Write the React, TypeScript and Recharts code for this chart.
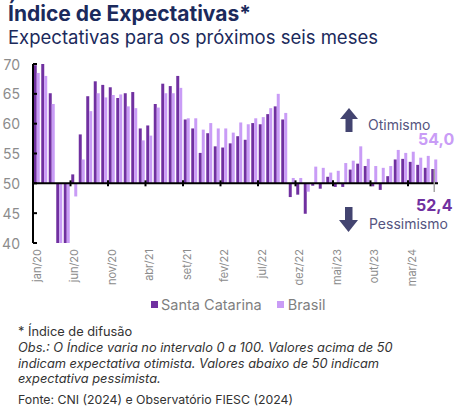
import { BarChart, Bar, XAxis, YAxis, ReferenceLine, LabelList } from "recharts";

const MONTHS = [
  "jan/20", "fev/20", "mar/20", "abr/20", "mai/20", "jun/20", "jul/20", "ago/20", "set/20", "out/20", "nov/20", "dez/20",
  "jan/21", "fev/21", "mar/21", "abr/21", "mai/21", "jun/21", "jul/21", "ago/21", "set/21", "out/21", "nov/21", "dez/21",
  "jan/22", "fev/22", "mar/22", "abr/22", "mai/22", "jun/22", "jul/22", "ago/22", "set/22", "out/22", "nov/22", "dez/22",
  "jan/23", "fev/23", "mar/23", "abr/23", "mai/23", "jun/23", "jul/23", "ago/23", "set/23", "out/23", "nov/23", "dez/23",
  "jan/24", "fev/24", "mar/24", "abr/24", "mai/24", "jun/24",
];

// Santa Catarina
const SC = [
  69.8, 70.0, 65.1, 34.5, 36.5, 51.5, 58.2, 64.6, 67.1, 66.5, 66.1, 64.3,
  65.1, 65.3, 59.2, 59.7, 63.3, 66.7, 66.3, 68.0, 60.7, 59.2, 55.1, 58.4,
  56.2, 56.0, 56.7, 57.9, 57.3, 60.1, 59.9, 61.6, 62.9, 60.7, 47.7, 48.1,
  44.9, 49.6, 49.1, 51.1, 49.4, 49.4, 52.3, 53.3, 52.9, 49.5, 48.9, 51.2,
  54.0, 54.1, 53.6, 53.1, 52.6, 52.4,
];

// Brasil
const BR = [
  68.5, 68.0, 63.3, 33.0, 35.0, 47.8, 54.0, 62.1, 65.1, 64.4, 64.8, 64.9,
  62.9, 62.6, 57.2, 58.0, 62.7, 65.1, 65.1, 66.0, 60.9, 60.9, 59.0, 60.1,
  59.2, 59.2, 58.5, 60.2, 59.9, 60.9, 61.1, 62.6, 65.0, 61.8, 50.9, 50.9,
  48.6, 52.8, 52.6, 51.8, 52.1, 53.4, 53.8, 56.2, 54.1, 52.9, 52.6, 52.9,
  55.6, 55.1, 55.3, 54.3, 54.6, 54.0,
];

const Y_TICKS = [40, 45, 50, 55, 60, 65, 70];
const BASE = 50;

const SC_COLOR = "#7030A0";
const BR_COLOR = "#C99CF6";
const NAVY = "#1B2A5C";
const ARROW = "#434470";
const GRAY = "#8C8C8C";
const FONT = "Inter, 'Open Sans', sans-serif";

const data = MONTHS.map((m, i) => ({ month: m, sc: [BASE, SC[i]], br: [BASE, BR[i]] }));
// tick marks on the 50-line every 5 months (skip the first, it sits on the y axis)
const axisMarks = MONTHS.filter((_, i) => i % 5 === 0 && i > 0);
const last = MONTHS.length - 1;
const fmt = (v: number) => v.toFixed(1).replace(".", ",");

const XTick = ({ x, y, payload }: any) => (
  <text
    transform={`translate(${x},${y}) rotate(-90)`}
    textAnchor="end"
    dominantBaseline="central"
    fontSize={11}
    fill={GRAY}
  >
    {payload.value}
  </text>
);

const YTick = ({ x, y, payload }: any) => (
  <g>
    <line x1={x + 13} x2={x + 17} y1={y} y2={y} stroke="#000" strokeWidth={2} />
    <text x={x} y={y} textAnchor="end" dominantBaseline="central" fontSize={14} fill={GRAY}>
      {payload.value}
    </text>
  </g>
);

const rectOf = (p: any) => {
  const vb = p.viewBox && p.viewBox.width !== undefined ? p.viewBox : p;
  const top = Math.min(vb.y, vb.y + vb.height);
  return { x: vb.x, width: vb.width, top };
};

const ScLabel = (props: any) => {
  if (props.index !== last) return null;
  const { x, width, top } = rectOf(props);
  const cx = x + width;
  return (
    <g>
      <line x1={cx} x2={cx} y1={top} y2={top + 23} stroke="#A6A6A6" strokeWidth={1.5} />
      <text x={cx} y={top + 42} textAnchor="middle" fontSize={16} fontWeight={700} fill={SC_COLOR}>
        {fmt(SC[last])}
      </text>
    </g>
  );
};

const BrLabel = (props: any) => {
  if (props.index !== last) return null;
  const { x, top } = rectOf(props);
  return (
    <text x={x + 20} y={top - 14} textAnchor="end" fontSize={16} fontWeight={700} fill={BR_COLOR}>
      {fmt(BR[last])}
    </text>
  );
};

const noteLine = { height: 15.8, lineHeight: "15.8px", whiteSpace: "nowrap" as const };

export default function App() {
  return (
    <div
      style={{
        position: "absolute",
        left: 0,
        top: 0,
        width: 459,
        height: 412,
        overflow: "hidden",
        background: "#fff",
        fontFamily: FONT,
      }}
    >
      <div style={{ position: "absolute", left: 8, top: 3, fontSize: 21, lineHeight: "22px", fontWeight: 700, color: NAVY }}>
        Índice de Expectativas*
      </div>
      <div style={{ position: "absolute", left: 8, top: 26, fontSize: 18.5, lineHeight: "22px", color: NAVY }}>
        Expectativas para os próximos seis meses
      </div>

      <div style={{ position: "absolute", left: 0, top: 0 }}>
        <BarChart
          width={459}
          height={300}
          data={data}
          margin={{ top: 64, right: 21, left: 0, bottom: 0 }}
          barCategoryGap="10%"
          barGap={0}
        >
          <XAxis
            dataKey="month"
            interval={4}
            height={57}
            axisLine={false}
            tickLine={false}
            tickSize={0}
            tickMargin={6}
            tick={<XTick />}
          />
          <YAxis
            type="number"
            domain={[40, 70]}
            ticks={Y_TICKS}
            allowDataOverflow
            width={33}
            axisLine={{ stroke: "#000", strokeWidth: 2 }}
            tickLine={false}
            tickSize={0}
            tickMargin={13}
            tick={<YTick />}
          />
          <Bar dataKey="sc" name="Santa Catarina" fill={SC_COLOR} isAnimationActive={false}>
            <LabelList content={<ScLabel />} />
          </Bar>
          <Bar dataKey="br" name="Brasil" fill={BR_COLOR} isAnimationActive={false}>
            <LabelList content={<BrLabel />} />
          </Bar>
          <ReferenceLine y={BASE} stroke="#000" strokeWidth={2} />
          {axisMarks.map((m) => (
            <ReferenceLine
              key={m}
              position="start"
              segment={[
                { x: m, y: BASE - 0.5 },
                { x: m, y: BASE + 0.5 },
              ]}
              stroke="#000"
              strokeWidth={2}
            />
          ))}
        </BarChart>
      </div>

      {/* annotations */}
      <svg width={459} height={412} style={{ position: "absolute", left: 0, top: 0, pointerEvents: "none" }}>
        <polygon points="349,108 358,119 340,119" fill={ARROW} />
        <rect x={345.5} y={118} width={7} height={14} fill={ARROW} />
        <text x={368} y={130} fontSize={14} fill="#555580">Otimismo</text>
        <rect x={345} y={207} width={7.5} height={14} fill={ARROW} />
        <polygon points="339,220 358,220 348.5,232" fill={ARROW} />
        <text x={369} y={229} fontSize={14} fill="#555580">Pessimismo</text>
      </svg>

      {/* legend */}
      <div
        style={{
          position: "absolute",
          left: 151,
          top: 296,
          display: "flex",
          alignItems: "center",
          fontSize: 14.5,
          color: "#7F7F7F",
        }}
      >
        <span style={{ width: 7, height: 7, background: SC_COLOR, marginRight: 3 }} />
        <span style={{ marginRight: 15 }}>Santa Catarina</span>
        <span style={{ width: 7, height: 7, background: BR_COLOR, marginRight: 4 }} />
        <span>Brasil</span>
      </div>

      <div style={{ position: "absolute", left: 18, top: 324, fontSize: 12.8, color: "#333" }}>
        <div style={noteLine}>* Índice de difusão</div>
        <div style={{ fontStyle: "italic" }}>
          <div style={noteLine}>Obs.: O Índice varia no intervalo 0 a 100. Valores acima de 50</div>
          <div style={noteLine}>indicam expectativa otimista. Valores abaixo de 50 indicam</div>
          <div style={noteLine}>expectativa pessimista.</div>
        </div>
        <div style={{ ...noteLine, marginTop: 5, fontSize: 12.3 }}>Fonte: CNI (2024) e Observatório FIESC (2024)</div>
      </div>
    </div>
  );
}
